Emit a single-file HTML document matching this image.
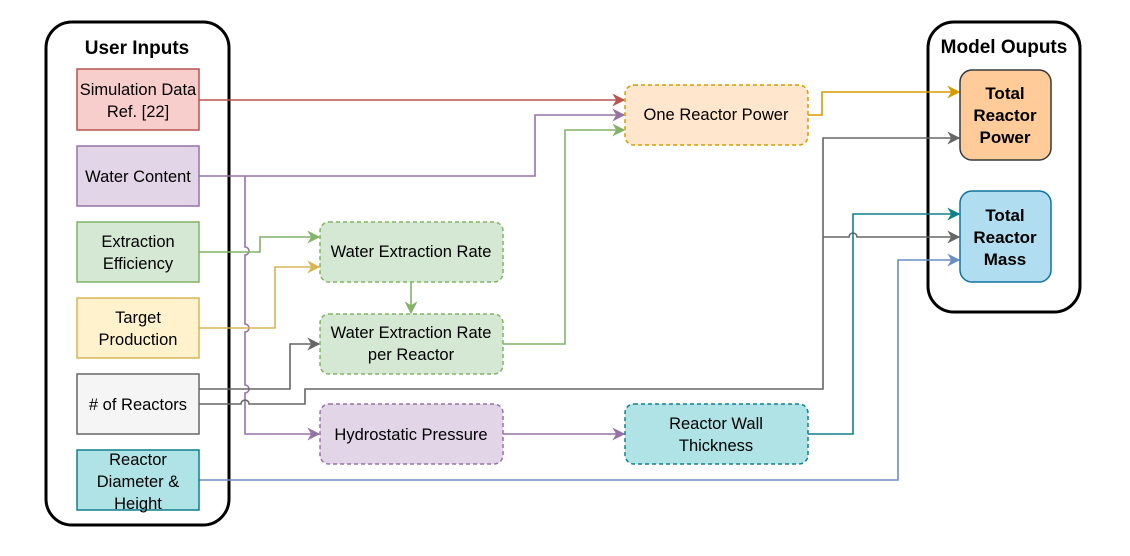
<!DOCTYPE html>
<html><head><meta charset="utf-8"><style>
html,body{margin:0;padding:0;background:#fff;}
svg text{font-family:"Liberation Sans",Arial,sans-serif;}
</style></head><body>
<svg width="1130" height="551" viewBox="0 0 1130 551" xmlns="http://www.w3.org/2000/svg">
<defs>
<marker id="r" viewBox="0 0 10 10" refX="9" refY="5" markerWidth="13" markerHeight="13" orient="auto" markerUnits="userSpaceOnUse"><path d="M0,0 L10,5 L0,10 L3,5 z" fill="#b85450"/></marker>
<marker id="p" viewBox="0 0 10 10" refX="9" refY="5" markerWidth="13" markerHeight="13" orient="auto" markerUnits="userSpaceOnUse"><path d="M0,0 L10,5 L0,10 L3,5 z" fill="#9673a6"/></marker>
<marker id="g" viewBox="0 0 10 10" refX="9" refY="5" markerWidth="13" markerHeight="13" orient="auto" markerUnits="userSpaceOnUse"><path d="M0,0 L10,5 L0,10 L3,5 z" fill="#82b366"/></marker>
<marker id="y" viewBox="0 0 10 10" refX="9" refY="5" markerWidth="13" markerHeight="13" orient="auto" markerUnits="userSpaceOnUse"><path d="M0,0 L10,5 L0,10 L3,5 z" fill="#d6b656"/></marker>
<marker id="k" viewBox="0 0 10 10" refX="9" refY="5" markerWidth="13" markerHeight="13" orient="auto" markerUnits="userSpaceOnUse"><path d="M0,0 L10,5 L0,10 L3,5 z" fill="#666"/></marker>
<marker id="o" viewBox="0 0 10 10" refX="9" refY="5" markerWidth="13" markerHeight="13" orient="auto" markerUnits="userSpaceOnUse"><path d="M0,0 L10,5 L0,10 L3,5 z" fill="#d79b00"/></marker>
<marker id="t" viewBox="0 0 10 10" refX="9" refY="5" markerWidth="13" markerHeight="13" orient="auto" markerUnits="userSpaceOnUse"><path d="M0,0 L10,5 L0,10 L3,5 z" fill="#0e8088"/></marker>
<marker id="bl" viewBox="0 0 10 10" refX="9" refY="5" markerWidth="13" markerHeight="13" orient="auto" markerUnits="userSpaceOnUse"><path d="M0,0 L10,5 L0,10 L3,5 z" fill="#6c8ebf"/></marker>
</defs>
<style>
.c{fill:none;stroke-width:1.6;}
.t{font-size:16.5px;text-anchor:middle;fill:#000;}
.b{font-size:19px;font-weight:bold;text-anchor:middle;fill:#000;}
.o{font-size:17px;font-weight:bold;text-anchor:middle;fill:#000;}
</style>
<rect x="46" y="22" width="183" height="503" rx="26" fill="none" stroke="#000" stroke-width="3"/>
<rect x="928" y="22" width="152" height="290" rx="26" fill="none" stroke="#000" stroke-width="3"/>
<text class="b" x="137" y="54">User Inputs</text>
<text class="b" x="1004" y="53">Model Ouputs</text>

<path class="c" stroke="#b85450" d="M199,100 H624" marker-end="url(#r)"/>
<path class="c" stroke="#9673a6" d="M199,176 H535 V115 H624" marker-end="url(#p)"/>
<path class="c" stroke="#9673a6" d="M245,176 V247 a4,4 0 0 1 0,8 V324 a4,4 0 0 1 0,8 V385 a4,4 0 0 1 0,8 V434 H319" marker-end="url(#p)"/>
<path class="c" stroke="#82b366" d="M199,252 H260 V237 H319" marker-end="url(#g)"/>
<path class="c" stroke="#d6b656" d="M199,328 H275 V267 H319" marker-end="url(#y)"/>
<path class="c" stroke="#82b366" d="M411,282 V313" marker-end="url(#g)"/>
<path class="c" stroke="#666" d="M199,389 H290 V344 H319" marker-end="url(#k)"/>
<path class="c" stroke="#666" d="M199,404 H241 a4,4 0 0 1 8,0 H305 V389 H823 V138 H959" marker-end="url(#k)"/>
<path class="c" stroke="#666" d="M823,237 H849 a4,4 0 0 1 8,0 H959" marker-end="url(#k)"/>
<path class="c" stroke="#82b366" d="M503,344 H565 V130 H624" marker-end="url(#g)"/>
<path class="c" stroke="#d79b00" d="M808,115 H822 V92 H959" marker-end="url(#o)"/>
<path class="c" stroke="#9673a6" d="M503,434 H624" marker-end="url(#p)"/>
<path class="c" stroke="#0e8088" d="M808,434 H853 V214 H959" marker-end="url(#t)"/>
<path class="c" stroke="#6c8ebf" d="M199,480 H898 V260 H959" marker-end="url(#bl)"/>

<rect x="77" y="69" width="122" height="61" fill="#f8cecc" stroke="#b85450" stroke-width="1.5"/>
<text class="t" x="138" y="95">Simulation Data</text><text class="t" x="138" y="117">Ref. [22]</text>
<rect x="77" y="146" width="122" height="60" fill="#e1d5e7" stroke="#9673a6" stroke-width="1.5"/>
<text class="t" x="138" y="182">Water Content</text>
<rect x="77" y="222" width="122" height="60" fill="#d5e8d4" stroke="#82b366" stroke-width="1.5"/>
<text class="t" x="138" y="247">Extraction</text><text class="t" x="138" y="269">Efficiency</text>
<rect x="77" y="298" width="122" height="60" fill="#fff2cc" stroke="#d6b656" stroke-width="1.5"/>
<text class="t" x="138" y="323">Target</text><text class="t" x="138" y="345">Production</text>
<rect x="77" y="374" width="122" height="60" fill="#f5f5f5" stroke="#666" stroke-width="1.5"/>
<text class="t" x="138" y="410">&#35; of Reactors</text>
<rect x="77" y="450" width="122" height="60" fill="#b0e3e6" stroke="#0e8088" stroke-width="1.5"/>
<text class="t" x="138" y="465">Reactor</text><text class="t" x="138" y="487">Diameter &amp;</text><text class="t" x="138" y="509">Height</text>

<g stroke-dasharray="4,3" stroke-width="1.5">
<rect x="320" y="222" width="183" height="60" rx="9" fill="#d5e8d4" stroke="#82b366"/>
<rect x="320" y="314" width="183" height="60" rx="9" fill="#d5e8d4" stroke="#82b366"/>
<rect x="320" y="404" width="183" height="60" rx="9" fill="#e1d5e7" stroke="#9673a6"/>
<rect x="625" y="85" width="183" height="60" rx="9" fill="#ffe6cc" stroke="#d79b00"/>
<rect x="625" y="404" width="183" height="60" rx="9" fill="#b0e3e6" stroke="#0e8088"/>
</g>
<text class="t" x="411" y="257">Water Extraction Rate</text>
<text class="t" x="411" y="338">Water Extraction Rate</text><text class="t" x="411" y="360">per Reactor</text>
<text class="t" x="411" y="440">Hydrostatic Pressure</text>
<text class="t" x="716" y="120">One Reactor Power</text>
<text class="t" x="716" y="429">Reactor Wall</text><text class="t" x="716" y="451">Thickness</text>

<rect x="960" y="70" width="91" height="90" rx="12" fill="#ffcc99" stroke="#36393d" stroke-width="1.5"/>
<text class="o" x="1005" y="99">Total</text><text class="o" x="1005" y="121">Reactor</text><text class="o" x="1005" y="143">Power</text>
<rect x="960" y="191" width="91" height="91" rx="12" fill="#b1ddf0" stroke="#10739e" stroke-width="1.5"/>
<text class="o" x="1005" y="221">Total</text><text class="o" x="1005" y="243">Reactor</text><text class="o" x="1005" y="265">Mass</text>
</svg>
</body></html>
